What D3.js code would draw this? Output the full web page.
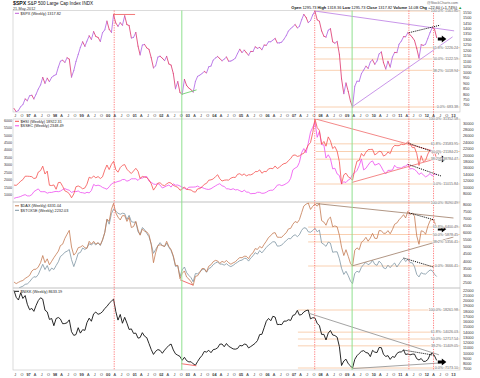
<!DOCTYPE html>
<html>
<head>
<meta charset="utf-8">
<script src="https://cdnjs.cloudflare.com/ajax/libs/d3/7.8.5/d3.min.js"></script>
<style>
  body { margin: 0; background: #fff; }
  svg { display: block; font-family: "Liberation Sans", Arial, sans-serif; }
</style>
</head>
<body>
<svg id="chart" width="480" height="378"></svg>
<script>
// monthly readings Jun 1996 .. May 2012 (192 points per series)
const spx = [
  670, 640, 652, 687, 705, 757, 741,
  786, 791, 757, 801, 848, 885, 954, 900, 947, 915, 955, 970,
  980, 1049, 1102, 1112, 1091, 1134, 1121, 957, 1017, 1099, 1164, 1229,
  1280, 1238, 1286, 1335, 1302, 1373, 1329, 1320, 1283, 1363, 1389, 1469,
  1394, 1366, 1527, 1452, 1421, 1455, 1431, 1518, 1437, 1429, 1315, 1320,
  1366, 1240, 1160, 1250, 1256, 1224, 1211, 1134, 1041, 1060, 1140, 1148,
  1130, 1107, 1147, 1077, 1067, 990, 850, 916, 815, 800, 936, 880,
  856, 841, 820, 917, 964, 975, 990, 1008, 996, 1051, 1058, 1112,
  1131, 1145, 1126, 1107, 1121, 1141, 1102, 1104, 1115, 1130, 1174, 1212,
  1181, 1204, 1181, 1157, 1192, 1191, 1234, 1220, 1229, 1207, 1250, 1248,
  1280, 1281, 1295, 1311, 1270, 1270, 1277, 1304, 1336, 1378, 1401, 1418,
  1438, 1407, 1421, 1482, 1531, 1503, 1455, 1474, 1527, 1561, 1481, 1468,
  1379, 1331, 1323, 1386, 1400, 1280, 1267, 1283, 1166, 940, 805, 903,
  826, 735, 683, 873, 919, 919, 988, 1021, 1057, 1036, 1096, 1115,
  1074, 1105, 1169, 1187, 1089, 1031, 1102, 1049, 1141, 1183, 1181, 1258,
  1286, 1327, 1326, 1364, 1345, 1321, 1292, 1219, 1131, 1253, 1247, 1258,
  1312, 1366, 1408, 1398, 1318
];
const hsi = [
  10680, 10590, 11160, 11920, 12385, 13450, 13451,
  13404, 13300, 12730, 12900, 14757, 15196, 16600, 14136, 15049, 10623, 10527, 10723,
  9370, 11480, 11520, 10280, 8880, 8540, 7990, 6700, 7883, 10155, 10402, 10048,
  9507, 9798, 10942, 13139, 12815, 13532, 12947, 13345, 12733, 13256, 15377, 16962,
  15532, 17169, 18100, 15519, 14713, 16156, 16840, 17097, 15648, 14895, 14305, 15096,
  15924, 14994, 12761, 13386, 13174, 13043, 12316, 11090, 9100, 10073, 11279, 11397,
  10725, 10482, 11033, 11497, 11301, 10599, 10268, 9986, 9073, 9441, 10069, 9321,
  9258, 9122, 8634, 8450, 9487, 9577, 10134, 10908, 11230, 12190, 12317, 12576,
  13289, 13907, 12681, 11942, 12198, 12286, 12238, 12850, 13120, 13054, 14060, 14230,
  13722, 14195, 13516, 13908, 13867, 14201, 14880, 14904, 15428, 14386, 14937, 14876,
  15753, 15918, 15805, 16661, 15857, 16267, 16971, 17392, 17543, 18324, 18960, 19965,
  20107, 19652, 19801, 20319, 20635, 21773, 23185, 23984, 27143, 31352, 28643, 27813,
  23456, 24332, 22849, 25755, 24533, 22102, 22731, 21262, 18016, 11016, 13888, 14387,
  13278, 12812, 12200, 15521, 18171, 18379, 20573, 19724, 20955, 21753, 21822, 21873,
  20122, 20609, 21239, 21108, 19765, 20129, 21030, 20537, 22358, 23096, 23008, 23035,
  23447, 23338, 23528, 24300, 23684, 22398, 22440, 20534, 16822, 19864, 17989, 18434,
  20390, 21680, 20556, 21094, 18922
];
const ssec = [
  750, 800, 830, 880, 950, 1000, 917,
  914, 1000, 1200, 1300, 1390, 1200, 1200, 1200, 1100, 1150, 1150, 1194,
  1220, 1200, 1240, 1340, 1410, 1340, 1300, 1150, 1220, 1200, 1250, 1147,
  1130, 1090, 1160, 1120, 1280, 1690, 1600, 1640, 1590, 1490, 1430, 1367,
  1530, 1720, 1800, 1840, 1890, 1930, 2020, 2020, 1910, 1960, 2070, 2073,
  2070, 1960, 2110, 2120, 2210, 2220, 1920, 1830, 1720, 1690, 1750, 1646,
  1450, 1520, 1590, 1650, 1510, 1730, 1640, 1650, 1580, 1510, 1430, 1358,
  1500, 1510, 1510, 1520, 1580, 1490, 1480, 1420, 1370, 1350, 1400, 1497,
  1590, 1680, 1740, 1600, 1550, 1400, 1390, 1340, 1400, 1320, 1340, 1266,
  1190, 1300, 1180, 1160, 1060, 1080, 1080, 1160, 1155, 1090, 1100, 1161,
  1260, 1300, 1300, 1440, 1640, 1670, 1610, 1660, 1750, 1840, 2100, 2675,
  2790, 2880, 3180, 3840, 4110, 3820, 4470, 5220, 5550, 5903, 4870, 5262,
  4380, 4350, 3470, 3690, 3430, 2740, 2780, 2400, 2290, 1719, 1870, 1821,
  1990, 2080, 2370, 2480, 2630, 2960, 3410, 2670, 2780, 2995, 3195, 3277,
  2990, 3050, 3110, 2870, 2590, 2400, 2640, 2640, 2660, 2980, 2820, 2808,
  2790, 2900, 2930, 3050, 2740, 2760, 2700, 2570, 2360, 2470, 2330, 2199,
  2290, 2430, 2260, 2400, 2350
];
const dax = [
  2540, 2430, 2520, 2600, 2650, 2790, 2889,
  3000, 3310, 3430, 3440, 3600, 3900, 4400, 3900, 4170, 3750, 4000, 4250,
  4480, 4710, 5100, 5200, 5600, 5900, 6170, 5000, 4430, 4600, 4950, 5000,
  5100, 4950, 4900, 5400, 5200, 5400, 5200, 5300, 5150, 5500, 6000, 6958,
  6800, 7650, 8065, 7400, 7100, 6900, 7200, 7200, 6800, 7080, 6370, 6434,
  6800, 6200, 5830, 6260, 6120, 6060, 5860, 5190, 3900, 4600, 5100, 5160,
  5100, 5040, 5400, 5040, 4820, 4380, 3700, 3710, 2770, 3150, 3320, 2890,
  2750, 2550, 2300, 2940, 2980, 3220, 3490, 3480, 3250, 3650, 3750, 3965,
  4060, 4020, 3850, 3990, 3920, 4050, 3900, 3790, 3890, 3960, 4130, 4256,
  4250, 4350, 4350, 4180, 4460, 4590, 4890, 4830, 5040, 4930, 5190, 5408,
  5670, 5800, 5970, 6010, 5690, 5680, 5680, 5860, 6000, 6270, 6310, 6597,
  6790, 6710, 6920, 7410, 7880, 8010, 8090, 7640, 7860, 8020, 7870, 8067,
  6850, 6750, 6530, 6950, 7100, 6420, 6480, 6420, 5830, 4990, 4400, 4810,
  4340, 3840, 3666, 4770, 4940, 4810, 5330, 5460, 5680, 5410, 5630, 5957,
  5610, 5600, 6150, 6140, 5960, 5970, 6150, 5930, 6230, 6600, 6690, 6914,
  7080, 7270, 7040, 7510, 7290, 7380, 7160, 5780, 5190, 6140, 6090, 5898,
  6460, 6860, 6950, 6760, 6330
];
const stoxx = [
  1650, 1580, 1630, 1700, 1740, 1830, 1850,
  1950, 2090, 2190, 2170, 2300, 2550, 2780, 2530, 2720, 2450, 2600, 2530,
  2720, 2900, 3150, 3230, 3350, 3400, 3480, 3000, 2670, 2960, 3300, 3340,
  3550, 3480, 3560, 3750, 3700, 3790, 3700, 3800, 3670, 3920, 4290, 4900,
  4680, 5180, 5400, 5300, 5200, 5150, 5200, 5180, 4900, 5100, 4800, 4772,
  4780, 4320, 4190, 4520, 4430, 4240, 4090, 3740, 3300, 3480, 3660, 3806,
  3670, 3620, 3780, 3580, 3430, 3130, 2680, 2710, 2200, 2520, 2650, 2386,
  2250, 2140, 1950, 2340, 2330, 2420, 2520, 2560, 2400, 2575, 2630, 2760,
  2840, 2890, 2790, 2790, 2740, 2810, 2720, 2670, 2730, 2810, 2880, 2951,
  2980, 3060, 3060, 2930, 3080, 3180, 3330, 3260, 3430, 3320, 3450, 3579,
  3690, 3770, 3850, 3840, 3640, 3650, 3690, 3810, 3900, 4000, 3990, 4120,
  4180, 4090, 4180, 4390, 4510, 4490, 4320, 4300, 4380, 4490, 4320, 4400,
  3790, 3720, 3630, 3830, 3780, 3350, 3370, 3370, 3040, 2590, 2300, 2450,
  2240, 1980, 1860, 2350, 2450, 2400, 2640, 2770, 2870, 2760, 2820, 2965,
  2780, 2730, 2930, 2820, 2610, 2570, 2740, 2620, 2750, 2840, 2650, 2793,
  2950, 3060, 2910, 3010, 2860, 2850, 2670, 2300, 2180, 2380, 2330, 2317,
  2420, 2510, 2480, 2310, 2200
];
const nikkei = [
  22000, 20690, 20170, 21560, 20470, 21020, 19361,
  18330, 18560, 18003, 19150, 20070, 20600, 20330, 18230, 17890, 16460, 16630, 15259,
  16630, 16830, 16530, 15640, 15670, 15830, 16380, 14110, 13410, 13560, 14880, 13842,
  14500, 14370, 15840, 16700, 16110, 17530, 17860, 17440, 17600, 17940, 18560, 18934,
  19540, 19960, 20340, 17970, 16330, 17410, 15730, 16860, 15750, 14540, 14650, 13786,
  13840, 12880, 12990, 13930, 13260, 12970, 11860, 10710, 9770, 10370, 10700, 10543,
  9990, 10590, 11030, 11490, 11760, 10620, 9880, 9620, 9380, 8640, 9220, 8579,
  8340, 8360, 7970, 7700, 8420, 9080, 9560, 10340, 10220, 10560, 10100, 10677,
  10780, 11040, 11720, 11760, 11240, 11860, 11330, 11080, 10820, 10770, 10900, 11489,
  11390, 11740, 11670, 11010, 11280, 11580, 11900, 12410, 13570, 13610, 14870, 16111,
  16650, 16210, 17060, 16910, 15470, 15510, 15460, 16140, 16130, 16400, 16270, 17226,
  17380, 18190, 17290, 17400, 17880, 18140, 18262, 16570, 16790, 16740, 15680, 15308,
  13590, 13600, 12530, 13850, 14340, 13480, 13380, 13070, 11260, 7650, 8510, 8860,
  7990, 7570, 7173, 8830, 9520, 9960, 10360, 10490, 10130, 10030, 9350, 10546,
  10200, 10130, 11090, 11060, 9770, 9380, 9540, 8820, 9370, 9200, 9940, 10229,
  10240, 10620, 9760, 9850, 9690, 9820, 9830, 8950, 8700, 8990, 8430, 8455,
  8800, 9720, 10080, 9520, 8630
];

// fibonacci anchors: [start date, 0% value, 100% value]
const spxFib = ["2007-10-12", 683.38, 1561.80];
const hsiFib = ["2007-10-26", 11015.84, 31352.58];
const daxFib = ["2007-07-13", 3666.41, 8090.49];
const nikFib = ["2007-02-23", 7173.10, 18261.98];
const fibRatios = [1, 0.618, 0.5, 0.382, 0];
const fibNames = ["100.0%", "61.8%", "50.0%", "38.2%", "0.0%"];

// trend lines: [start date, start value, end date, end value]
const spxChannel = [["2007-10-12", 1561.8, "2013-01-10", 1380], ["2009-03-06", 683.38, "2012-12-20", 1325]];
const spxTop = [["2000-03-10", 1530, "2001-01-05", 1530]];
const spxLow = [["2002-10-10", 800, "2003-05-01", 840]];
const spxDots = [["2011-04-29", 1363, "2012-07-01", 1432]];
const hsiChannel = [["2007-10-26", 31352, "2012-07-15", 20700], ["2009-03-06", 11500, "2012-08-01", 19460]];
const hsiDots = [["2011-04-15", 23844, "2012-06-20", 20402]];
const ssecDots = [["2011-04-15", 3050, "2012-07-15", 2259]];
const daxChannel = [["2007-11-01", 8050, "2013-01-01", 7037], ["2009-03-06", 3666, "2013-01-01", 5700]];
const daxLow = [["2002-09-15", 2700, "2003-03-10", 2330]];
const daxDots = [["2011-04-29", 7400, "2012-04-15", 6900]];
const stoxxDots = [["2011-02-15", 3077, "2012-04-01", 2650]];
const nikChannel = [["2007-07-10", 17700, "2012-06-15", 9700], ["2009-03-10", 7050, "2012-07-01", 8130]];
const nikLow = [["2002-10-01", 8000, "2003-04-28", 7600]];
const nikDots = [["2011-02-15", 10600, "2012-04-15", 9600]];
const arrowSpots = [["2012-07-25", 1305], ["2012-07-25", 18800], ["2012-07-25", 6264], ["2012-07-25", 8320]];

const redDates = ["2000-03-24", "2007-10-12", "2011-04-29", "2012-04-02"];
const greenDates = ["2002-10-10", "2009-03-09"];

const spxTicks = [700, 750, 800, 850, 900, 950, 1000, 1050, 1100, 1150, 1200, 1250, 1300, 1350, 1400, 1450, 1500, 1550];
const hsiTicks = [8000, 10000, 12000, 14000, 16000, 18000, 20000, 22000, 24000, 26000, 28000, 30000];
const ssecTicks = [1000, 1500, 2000, 2500, 3000, 3500, 4000, 4500, 5000, 5500, 6000];
const daxTicks = [2500, 3000, 3500, 4000, 4500, 5000, 5500, 6000, 6500, 7000, 7500, 8000];
const nikTicks = [7000, 8000, 9000, 10000, 11000, 12000, 13000, 14000, 15000, 16000, 17000, 18000, 19000, 20000, 21000, 22000];
const monthLetters = ["J", "F", "M", "A", "M", "J", "J", "A", "S", "O", "N", "D"];

const parse = d3.timeParse("%Y-%m-%d");
const months = d3.timeMonth.range(new Date(1996, 5, 1), new Date(2012, 5, 1)).map(m => d3.timeDay.offset(m, 14));

const svg = d3.select("#chart");
const plotL = 13, plotR = 460;
const x = d3.scaleTime().domain([new Date(1996, 5, 1), new Date(2013, 3, 1)]).range([plotL, plotR]);

const panels = [
  { top: 10.5, bottom: 112 },
  { top: 119, bottom: 202 },
  { top: 202, bottom: 288 },
  { top: 288, bottom: 370 }
];

const ySpx = d3.scaleLinear().domain([spxFib[1], spxFib[2]]).range([107, 11]);
const yHsi = d3.scaleLinear().domain([hsiFib[1], hsiFib[2]]).range([184, 119]);
const ySsec = d3.scaleLinear().domain([1719, 5903]).range([184, 122]);
const yDax = d3.scaleLinear().domain([daxFib[1], daxFib[2]]).range([266, 203]);
const yStoxx = d3.scaleLinear().domain([1860, 5400]).range([283.7, 209]);
const yNik = d3.scaleLinear().domain([nikFib[1], nikFib[2]]).range([368, 310]);

const defs = svg.append("defs");
panels.forEach((p, i) => {
  defs.append("clipPath").attr("id", "clip" + i)
    .append("rect").attr("x", plotL).attr("y", p.top).attr("width", plotR - plotL).attr("height", p.bottom - p.top);
});

// frames
panels.forEach(p => {
  svg.append("rect")
    .attr("x", plotL).attr("y", p.top)
    .attr("width", plotR - plotL).attr("height", p.bottom - p.top)
    .attr("fill", "none").attr("stroke", "#c4c4c4").attr("stroke-width", 0.6);
});

const layers = panels.map((p, i) => svg.append("g").attr("clip-path", `url(#clip${i})`));

// fibonacci retracements
function drawFib(g, fib, y) {
  const lo = fib[1], hi = fib[2];
  fibRatios.forEach((r, i) => {
    const v = lo + (hi - lo) * r;
    g.append("line")
      .attr("x1", x(parse(fib[0]))).attr("x2", plotR)
      .attr("y1", y(v)).attr("y2", y(v))
      .attr("stroke", "#f8cba8").attr("stroke-width", 0.9);
  });
}
drawFib(layers[0], spxFib, ySpx);
drawFib(layers[1], hsiFib, yHsi);
drawFib(layers[2], daxFib, yDax);
drawFib(layers[3], nikFib, yNik);

// vertical markers across all panels
redDates.forEach(d => {
  svg.append("line")
    .attr("x1", x(parse(d))).attr("x2", x(parse(d)))
    .attr("y1", panels[0].top).attr("y2", panels[3].bottom)
    .attr("stroke", "#ff5a5a").attr("stroke-width", 0.8)
    .attr("stroke-dasharray", "1.2,1.2");
});
greenDates.forEach(d => {
  svg.append("line")
    .attr("x1", x(parse(d))).attr("x2", x(parse(d)))
    .attr("y1", panels[0].top).attr("y2", panels[3].bottom)
    .attr("stroke", "#8fe08f").attr("stroke-width", 1);
});

function seriesLine(g, values, y, color, width) {
  const line = d3.line().x((d, i) => x(months[i])).y(d => y(d));
  g.append("path").datum(values)
    .attr("d", line)
    .attr("fill", "none").attr("stroke", color)
    .attr("stroke-width", width).attr("stroke-linejoin", "round");
}

function drawSegs(g, segs, y, color, width, dash) {
  segs.forEach(s => {
    g.append("line")
      .attr("x1", x(parse(s[0]))).attr("y1", y(s[1]))
      .attr("x2", x(parse(s[2]))).attr("y2", y(s[3]))
      .attr("stroke", color).attr("stroke-width", width)
      .attr("stroke-dasharray", dash || null);
  });
}

// panel 1: S&P 500, coloured by direction
spx.forEach((v, i) => {
  if (i === 0) return;
  layers[0].append("line")
    .attr("x1", x(months[i - 1])).attr("y1", ySpx(spx[i - 1]))
    .attr("x2", x(months[i])).attr("y2", ySpx(v))
    .attr("stroke", v >= spx[i - 1] ? "#b772e6" : "#e0487c")
    .attr("stroke-width", 0.9).attr("stroke-linecap", "round");
});
drawSegs(layers[0], spxChannel, ySpx, "#c38ae6", 0.9);
drawSegs(layers[0], spxTop, ySpx, "#f06a6a", 0.9);
drawSegs(layers[0], spxLow, ySpx, "#6fd06f", 0.9);
drawSegs(layers[0], spxDots, ySpx, "#000", 1, "1,1");

// panel 2: Hang Seng and Shanghai
seriesLine(layers[1], ssec, ySsec, "#ee4df0", 0.8);
seriesLine(layers[1], hsi, yHsi, "#f5514f", 0.8);
drawSegs(layers[1], hsiChannel, yHsi, "#f27a7a", 0.9);
drawSegs(layers[1], hsiDots, yHsi, "#000", 1, "1,1");
drawSegs(layers[1], ssecDots, ySsec, "#000", 1, "1,1");

// panel 3: DAX and Euro Stoxx 50
seriesLine(layers[2], stoxx, yStoxx, "#7f95a3", 0.8);
seriesLine(layers[2], dax, yDax, "#c47a52", 0.8);
drawSegs(layers[2], daxChannel, yDax, "#a88a76", 0.9);
drawSegs(layers[2], daxLow, yDax, "#f06060", 0.9);
drawSegs(layers[2], daxDots, yDax, "#000", 1, "1,1");
drawSegs(layers[2], stoxxDots, yStoxx, "#000", 1, "1,1");

// panel 4: Nikkei
seriesLine(layers[3], nikkei, yNik, "#111", 0.9);
drawSegs(layers[3], nikChannel, yNik, "#999", 0.9);
drawSegs(layers[3], nikLow, yNik, "#f06060", 0.9);
drawSegs(layers[3], nikDots, yNik, "#000", 1, "1,1");

// arrows
const arrowScales = [ySpx, yHsi, yDax, yNik];
arrowSpots.forEach((a, i) => {
  const ax = x(parse(a[0])), ay = arrowScales[i](a[1]);
  svg.append("path")
    .attr("transform", `translate(${ax},${ay})`)
    .attr("d", "M-4,-1.5L0,-1.5L0,-3.5L4.5,0L0,3.5L0,1.5L-4,1.5Z")
    .attr("fill", "#000");
});

// fib labels
function fibLabels(fib, y) {
  const lo = fib[1], hi = fib[2];
  fibRatios.forEach((r, i) => {
    const v = lo + (hi - lo) * r;
    svg.append("text")
      .attr("x", plotR - 2).attr("y", y(v) + 1.3)
      .attr("text-anchor", "end")
      .attr("font-size", 3.6).attr("fill", "#666")
      .attr("stroke", "#fff").attr("stroke-width", 1).attr("paint-order", "stroke")
      .text(`${fibNames[i]}: ${v.toFixed(2)}`);
  });
}
fibLabels(spxFib, ySpx);
fibLabels(hsiFib, yHsi);
fibLabels(daxFib, yDax);
fibLabels(nikFib, yNik);

// right-hand axes
function rightAxis(ticks, y, p) {
  ticks.forEach(t => {
    const yy = y(t);
    if (yy < p.top + 1 || yy > p.bottom - 1) return;
    svg.append("text")
      .attr("x", plotR + 3).attr("y", yy + 1.3)
      .attr("font-size", 3.8).attr("fill", "#333")
      .text(t);
  });
}
rightAxis(spxTicks, ySpx, panels[0]);
rightAxis(hsiTicks, yHsi, panels[1]);
rightAxis(daxTicks, yDax, panels[2]);
rightAxis(nikTicks, yNik, panels[3]);
ssecTicks.forEach(t => {
  const yy = ySsec(t);
  if (yy < panels[1].top + 1 || yy > panels[1].bottom - 1) return;
  svg.append("text")
    .attr("x", plotL - 1).attr("y", yy + 1.3)
    .attr("text-anchor", "end")
    .attr("font-size", 3.6).attr("fill", "#333")
    .text(t);
});

// time axes
const quarters = d3.timeMonth.every(3).range(new Date(1996, 5, 1), new Date(2013, 3, 1));
[116.5, 375.5].forEach(yy => {
  quarters.forEach(q => {
    const m = q.getMonth();
    const lbl = m === 0 ? d3.timeFormat("%y")(q) : monthLetters[m];
    svg.append("text")
      .attr("x", x(q)).attr("y", yy)
      .attr("text-anchor", "middle")
      .attr("font-size", 3.8)
      .attr("font-weight", m === 0 ? "bold" : null)
      .attr("fill", "#333")
      .text(lbl);
  });
});

// legends
function legend(yy, color, label) {
  svg.append("line")
    .attr("x1", 15).attr("x2", 19).attr("y1", yy - 1.2).attr("y2", yy - 1.2)
    .attr("stroke", color).attr("stroke-width", 1);
  svg.append("text")
    .attr("x", 20.5).attr("y", yy)
    .attr("font-size", 3.8).attr("fill", "#222")
    .text(label);
}
legend(14.5, "#c060d8", "$SPX (Weekly) 1317.82");
legend(122.5, "#f5514f", "$HSI (Weekly) 18922.31");
legend(127, "#ee4df0", "$SSEC (Weekly) 2348.49");
legend(207, "#c47a52", "$DAX (Weekly) 6331.04");
legend(211.5, "#7f95a3", "$STOX5E (Weekly) 2232.03");
legend(292.5, "#111", "$NIKK (Weekly) 8633.19");

// header
const title = svg.append("text").attr("x", 13).attr("y", 5).attr("font-size", 4.6).attr("fill", "#111");
title.append("tspan").attr("font-weight", "bold").attr("font-size", 5.2).text("$SPX");
title.append("tspan").text(" S&P 500 Large Cap Index INDX");
svg.append("text").attr("x", 13).attr("y", 9.6).attr("font-size", 3.8).attr("fill", "#333").text("21-May-2012");

svg.append("text").attr("x", plotR - 2).attr("y", 4.2)
  .attr("text-anchor", "end").attr("font-size", 3.6).attr("fill", "#666")
  .text("@StockCharts.com");
const ohlc = svg.append("text").attr("x", 462).attr("y", 9.3)
  .attr("text-anchor", "end").attr("font-size", 3.9).attr("fill", "#111");
[["Open", " 1295.73  "], ["High", " 1318.36  "], ["Low", " 1295.73  "], ["Close", " 1317.82  "],
 ["Volume", " 14.0B  "], ["Chg", " +22.60 (+1.74%)"]].forEach(p => {
  ohlc.append("tspan").attr("font-weight", "bold").text(p[0]);
  ohlc.append("tspan").text(p[1]);
});
ohlc.append("tspan").attr("fill", "#2a9d2a").text(" \u25B2");
</script>
</body>
</html>
